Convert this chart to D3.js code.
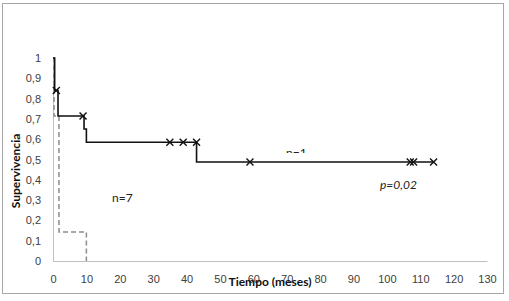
<!DOCTYPE html>
<html>
<head>
<meta charset="utf-8">
<script src="https://cdn.jsdelivr.net/npm/d3@7"></script>
<style>
  body { margin: 0; background: #fff; }
  svg { display: block; font-family: Lato, "Open Sans", sans-serif; }
</style>
</head>
<body>
<div id="chart"></div>
<script>
// Kaplan-Meier steps, group A (solid)
const solidTimes = [0, 0.5, 1.5, 9.3, 10, 43, 114];
const solidSurv = [1, 0.84, 0.714, 0.65, 0.585, 0.488, 0.488];
// censored marks on group A
const censorTimes = [1, 9, 35, 39, 43, 59, 107, 108, 114];
const censorSurv = [0.84, 0.714, 0.585, 0.585, 0.585, 0.488, 0.488, 0.488, 0.488];
// group B (dashed)
const dashTimes = [0, 0.3, 1.8, 10, 10];
const dashSurv = [1, 0.714, 0.143, 0, 0];

const xTicks = d3.range(0, 131, 10);
const yTicks = d3.range(0, 1.01, 0.1);

const width = 509, height = 301;
const svg = d3.select('#chart').append('svg')
    .attr('width', width)
    .attr('height', height);

// outer frame
svg.append('rect')
    .attr('x', 2.5).attr('y', 3.5)
    .attr('width', 501).attr('height', 290)
    .attr('fill', 'none')
    .attr('stroke', '#a6a6a6');

const x = d3.scaleLinear().domain([0, 130]).range([53, 487]);
const y = d3.scaleLinear().domain([0, 1]).range([261, 58]);

const fmt = d => d === 0 ? '0' : d === 1 ? '1' : d3.format('.1f')(d).replace('.', ',');

// x axis
const xAxis = svg.append('g')
    .attr('transform', `translate(0,${y(0)})`)
    .call(d3.axisBottom(x).tickValues(xTicks).tickSize(0).tickPadding(14));
xAxis.select('.domain').attr('stroke', '#bfbfbf');
xAxis.selectAll('text').attr('fill', '#404040').style('font-size', '11px');

// y axis
const yAxis = svg.append('g')
    .attr('transform', `translate(${x(0)},0)`)
    .call(d3.axisLeft(y).tickValues(yTicks).tickSize(0).tickPadding(12).tickFormat(fmt));
yAxis.select('.domain').attr('stroke', '#bfbfbf');
yAxis.selectAll('text').attr('fill', '#404040').style('font-size', '11px');

const line = d3.line()
    .x(d => x(d[0]))
    .y(d => y(d[1]))
    .curve(d3.curveStepAfter);

// dashed group
svg.append('path')
    .datum(dashTimes.map((t, i) => [t, dashSurv[i]]))
    .attr('d', line)
    .attr('fill', 'none')
    .attr('stroke', '#8c8c8c')
    .attr('stroke-width', 1.5)
    .attr('stroke-dasharray', '5,3');

// solid group
svg.append('path')
    .datum(solidTimes.map((t, i) => [t, solidSurv[i]]))
    .attr('d', line)
    .attr('fill', 'none')
    .attr('stroke', '#111')
    .attr('stroke-width', 1.6);

// censor crosses
const s = 3.5;
svg.selectAll('.cross')
    .data(censorTimes.map((t, i) => [t, censorSurv[i]]))
    .enter()
    .append('path')
    .attr('class', 'cross')
    .attr('d', d => {
        const cx = x(d[0]), cy = y(d[1]);
        return `M${cx - s},${cy - s}L${cx + s},${cy + s}M${cx - s},${cy + s}L${cx + s},${cy - s}`;
    })
    .attr('stroke', '#111')
    .attr('stroke-width', 1.4);

// annotations
svg.append('text')
    .attr('x', 112).attr('y', 202)
    .attr('fill', '#222')
    .style('font-size', '12px')
    .text('n=7');

svg.append('clipPath').attr('id', 'cut')
    .append('rect').attr('x', 270).attr('y', 130).attr('width', 60).attr('height', 23);
svg.append('text')
    .attr('x', 286).attr('y', 157)
    .attr('clip-path', 'url(#cut)')
    .attr('fill', '#222')
    .style('font-size', '12px')
    .text('n=1');

svg.append('text')
    .attr('x', 380).attr('y', 189)
    .attr('fill', '#222')
    .style('font-size', '12px')
    .style('font-style', 'italic')
    .text('p=0,02');

// axis titles
svg.append('text')
    .attr('transform', 'translate(20,171) rotate(-90)')
    .attr('text-anchor', 'middle')
    .attr('fill', '#111')
    .style('font-size', '12px')
    .style('font-weight', 'bold')
    .text('Supervivencia');

svg.append('text')
    .attr('x', 270).attr('y', 286)
    .attr('text-anchor', 'middle')
    .attr('fill', '#111')
    .style('font-size', '12px')
    .style('font-weight', 'bold')
    .text('Tiempo (meses)');
</script>
</body>
</html>
